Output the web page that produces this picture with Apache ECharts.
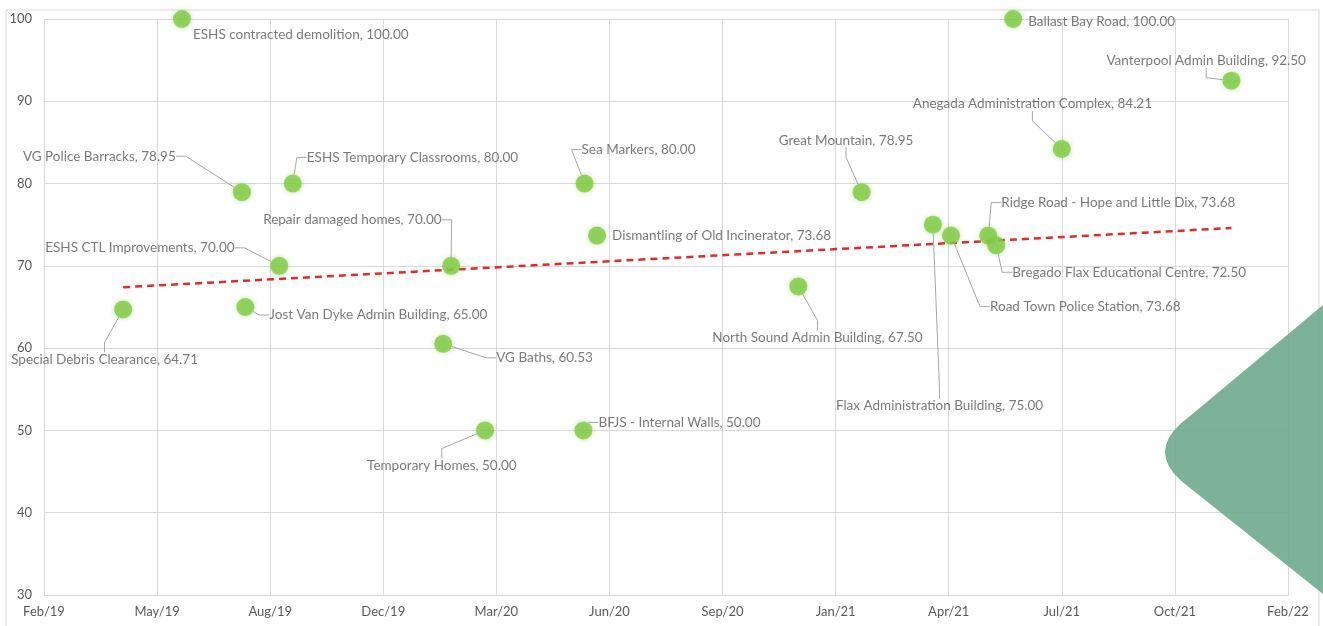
<!DOCTYPE html>
<html lang="en">
<head>
<meta charset="UTF-8">
<title>Project scores</title>
<style>
  html, body { margin: 0; padding: 0; background: #fff; }
  #main { width: 1323px; height: 626px; }
</style>
</head>
<body>
<div id="main"></div>
<script src="https://cdn.jsdelivr.net/npm/echarts@6/dist/echarts.min.js"></script>
<script>
    // project names, completion dates and scores
    var projectNames = [
        'Special Debris Clearance', 'ESHS contracted demolition', 'VG Police Barracks',
        'Jost Van Dyke Admin Building', 'ESHS CTL Improvements', 'ESHS Temporary Classrooms',
        'VG Baths', 'Repair damaged homes', 'Temporary Homes', 'Sea Markers',
        'BFJS - Internal Walls', 'Dismantling of Old Incinerator', 'North Sound Admin Building',
        'Great Mountain', 'Flax Administration Building', 'Road Town Police Station',
        'Ridge Road - Hope and Little Dix', 'Bregado Flax Educational Centre', 'Ballast Bay Road',
        'Anegada Administration Complex', 'Vanterpool Admin Building'
    ];
    var projectDates = [
        '2019-04-15', '2019-06-06', '2019-07-29',
        '2019-08-01', '2019-08-31', '2019-09-12',
        '2020-01-23', '2020-01-30', '2020-02-29', '2020-05-27',
        '2020-05-26', '2020-06-07', '2020-12-02',
        '2021-01-27', '2021-03-31', '2021-04-16',
        '2021-05-19', '2021-05-26', '2021-06-10',
        '2021-07-23', '2021-12-20'
    ];
    var projectScores = [
        64.71, 100.00, 78.95,
        65.00, 70.00, 80.00,
        60.53, 70.00, 50.00, 80.00,
        50.00, 73.68, 67.50,
        78.95, 75.00, 73.68,
        73.68, 72.50, 100.00,
        84.21, 92.50
    ];
    // dashed trend line, read at the first and last project dates
    var trendValues = [67.4, 74.6];

    // x axis ticks are Excel day numbers (Feb/19 .. Feb/22, every 100 days)
    var xMin = 43500, xMax = 44600, xStep = 100;
    var yMin = 30, yMax = 100, yStep = 10;
    var monthNames = ['Jan','Feb','Mar','Apr','May','Jun','Jul','Aug','Sep','Oct','Nov','Dec'];

    // label placement: [dx to label left edge, dy to label middle] from the marker, in px
    var labelOffsets = [
        [-112, 50], [11, 16], [-219, -36],
        [24, 8], [-234, -18], [14, -26],
        [53, 14], [-188, -46], [-118, 35], [-3, -34],
        [15, -8], [15, 0], [-86, 51],
        [-83, -52], [-97, 181], [39, 71],
        [13, -33], [16, 27], [15, 3],
        [-149, -45], [-125, -20]
    ];
    var showLeader = [
        true, false, true,
        true, true, true,
        true, true, true, true,
        true, false, true,
        true, true, true,
        true, true, false,
        true, true
    ];

    var excelEpoch = Date.UTC(1899, 11, 30);
    function toSerial(s) {
        var p = s.split('-');
        return (Date.UTC(+p[0], +p[1] - 1, +p[2]) - excelEpoch) / 86400000;
    }
    function serialLabel(v) {
        var d = new Date(excelEpoch + v * 86400000);
        return monthNames[d.getUTCMonth()] + '/' + String(d.getUTCFullYear()).slice(2);
    }

    var points = [];
    for (var i = 0; i < projectNames.length; i++) {
        points.push({
            name: projectNames[i],
            value: [toSerial(projectDates[i]), projectScores[i]],
            labelLine: { show: showLeader[i] }
        });
    }
    var trend = [
        [toSerial(projectDates[0]), trendValues[0]],
        [toSerial(projectDates[projectDates.length - 1]), trendValues[1]]
    ];

    // decorative chevron at the right edge: straight sides, rounded tip
    var chevron = [[1323, 305], [1190, 416]];
    for (var t = 0.1; t < 1; t += 0.1) {
        var a = (1 - t) * (1 - t), b = 2 * t * (1 - t), c = t * t;
        chevron.push([a * 1190 + b * 1140 + c * 1190, a * 416 + b * 452 + c * 488]);
    }
    chevron.push([1190, 488], [1323, 594]);

    var textFont = 'Lato';
    var textColor = '#595959';
    var gridColor = '#d9d9d9';

    var myChart = echarts.init(document.getElementById('main'));
    myChart.setOption({
        animation: false,
        grid: { left: 44, right: 35, top: 19, bottom: 31, containLabel: false },
        xAxis: {
            type: 'value',
            min: xMin, max: xMax, interval: xStep,
            axisLine: { show: true, lineStyle: { color: gridColor } },
            axisTick: { show: false },
            splitLine: { show: true, lineStyle: { color: gridColor } },
            axisLabel: {
                color: textColor, fontFamily: textFont, fontSize: 13, margin: 10,
                formatter: serialLabel
            }
        },
        yAxis: {
            type: 'value',
            min: yMin, max: yMax, interval: yStep,
            axisLine: { show: false },
            axisTick: { show: false },
            splitLine: { show: true, lineStyle: { color: gridColor } },
            axisLabel: { color: textColor, fontFamily: textFont, fontSize: 13, margin: 12 }
        },
        series: [{
            name: 'Trend',
            type: 'line',
            data: trend,
            symbol: 'none',
            silent: true,
            z: 3,
            lineStyle: { color: '#e12a2a', width: 2.5, type: [7, 5] }
        }, {
            name: 'Projects',
            type: 'scatter',
            data: points,
            symbolSize: 18,
            z: 4,
            itemStyle: {
                color: '#7fcb45',
                shadowBlur: 5,
                shadowColor: 'rgba(127,203,69,0.6)'
            },
            label: {
                show: true,
                position: 'inside',
                color: textColor,
                fontFamily: textFont,
                fontSize: 13.5,
                formatter: function (p) {
                    return p.name + ', ' + p.value[1].toFixed(2);
                }
            },
            labelLayout: function (p) {
                var off = labelOffsets[p.dataIndex];
                return { dx: off[0], dy: off[1], align: 'left', verticalAlign: 'middle' };
            },
            labelLine: {
                show: true,
                length2: 10,
                lineStyle: { color: '#a6a6a6', width: 1 }
            },
            emphasis: { disabled: true }
        }],
        graphic: [{
            type: 'rect',
            silent: true,
            shape: { x: 6, y: 10, width: 1313, height: 640 },
            style: { fill: null, stroke: gridColor, lineWidth: 1 }
        }, {
            type: 'polygon',
            silent: true,
            z: 100,
            shape: { points: chevron },
            style: { fill: '#72ab90', opacity: 0.92 }
        }]
    });
</script>
</body>
</html>
